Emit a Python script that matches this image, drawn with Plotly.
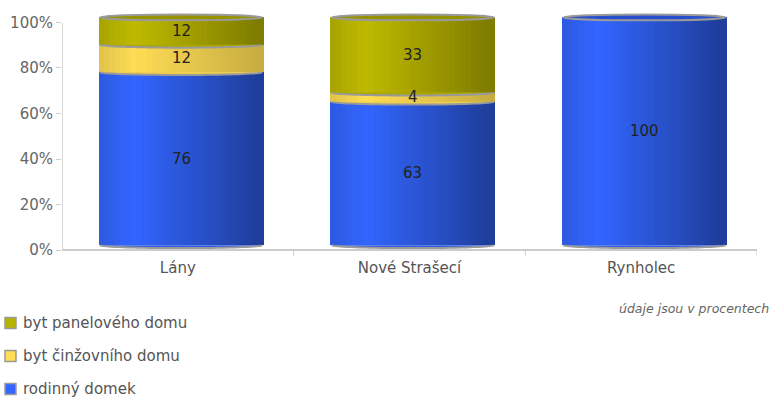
import numpy as np
import plotly.graph_objects as go

# ---------------- data ----------------
categories = ["Lány", "Nové Strašecí", "Rynholec"]
rodinny_domek = [76, 63, 100]
byt_cinzovniho = [12, 4, 0]
byt_paneloveho = [12, 33, 0]
series_names = ["rodinný domek", "byt činžovního domu", "byt panelového domu"]
y_tick_values = [0, 20, 40, 60, 80, 100]
y_tick_labels = ["0%", "20%", "40%", "60%", "80%", "100%"]
note_text = "údaje jsou v procentech"

# ---------------- style ----------------
FONT = "DejaVu Sans, Verdana, sans-serif"
base_rgb = [(51, 102, 255), (255, 221, 85), (191, 186, 0)]
dark_min = [0.60, 0.78, 0.66]
legend_rgb = ["#3366ff", "#ffdd55", "#b8b200"]
cap_rgb = ["rgb(40,78,205)", "rgb(225,195,70)", "rgb(150,146,0)"]
EDGE = "#9a9a9a"
BAR_W = 0.70
N_STRIPS = 30
DX = 0.014   # 3D depth offset (x, axis units)
DY = 2.2     # 3D depth offset (y, axis units)
RY = 1.3     # ellipse half-height (y, axis units)

W, H = 774, 401
ML, MR, MT, MB = 62, 17, 11, 144
PW, PH = W - ML - MR, H - MT - MB


def px_x(px):
    return (px - ML) / PW


def px_y(py):
    return (H - MB - py) / PH


series = [rodinny_domek, byt_cinzovniho, byt_paneloveho]
vals = np.array(series, dtype=float)          # (series, category)
bases = np.vstack([np.zeros(len(categories)), np.cumsum(vals, axis=0)[:-1]])
ncat = len(categories)


def shade(rgb, t, dmin):
    # brightness profile across cylinder width
    if t < 0.22:
        f = 0.88 + (1.0 - 0.88) * t / 0.22
    else:
        f = 1.0 - (1.0 - dmin) * (t - 0.22) / 0.78
    return "rgb(%d,%d,%d)" % tuple(int(max(0, min(255, c * f))) for c in rgb)


step = BAR_W / N_STRIPS
fig = go.Figure()

for s in range(len(series)):
    xs, ys, bs, cs = [], [], [], []
    for i in range(ncat):
        if vals[s, i] <= 0:
            continue
        cx = i + DX
        for k in range(N_STRIPS):
            t = (k + 0.5) / N_STRIPS
            xs.append(cx - BAR_W / 2 + step * (k + 0.5))
            ys.append(vals[s, i])
            bs.append(bases[s, i] + DY)
            cs.append(shade(base_rgb[s], t, dark_min[s]))
    fig.add_trace(go.Bar(
        x=xs, y=ys, base=bs, width=step * 1.5, name=series_names[s],
        marker=dict(color=cs, line=dict(width=0)),
        showlegend=False, hoverinfo="skip",
    ))

shapes = []
annotations = []
theta = np.linspace(np.pi, 2 * np.pi, 41)


def half_ellipse(cx, cy, rx, ry, closed):
    px = cx + rx * np.cos(theta)
    py = cy + ry * np.sin(theta)
    p = "M %f,%f " % (px[0], py[0]) + " ".join("L %f,%f" % (a, b) for a, b in zip(px[1:], py[1:]))
    if closed:
        p += " Z"
    return p


for i in range(ncat):
    cx = i + DX
    rx = BAR_W / 2
    top_s = None
    for s in range(len(series)):
        if vals[s, i] <= 0:
            continue
        top_s = s
        y0 = bases[s, i] + DY
        mid_col = shade(base_rgb[s], 0.45, dark_min[s])
        shapes.append(dict(type="path", xref="x", yref="y",
                           path=half_ellipse(cx, y0, rx, RY, True),
                           fillcolor=mid_col, line=dict(width=0)))
        shapes.append(dict(type="path", xref="x", yref="y",
                           path=half_ellipse(cx, y0, rx, RY, False),
                           line=dict(color=EDGE, width=2)))
        annotations.append(dict(
            x=cx, y=bases[s, i] + vals[s, i] / 2 + DY, xref="x", yref="y",
            text=str(int(vals[s, i])), showarrow=False,
            font=dict(family=FONT, size=15, color="#222")))
    ytop = bases[top_s, i] + vals[top_s, i] + DY
    shapes.append(dict(type="circle", xref="x", yref="y",
                       x0=cx - rx, x1=cx + rx, y0=ytop - RY, y1=ytop + RY,
                       fillcolor=cap_rgb[top_s], line=dict(color=EDGE, width=2)))

# axis line and category separator ticks
shapes.append(dict(type="line", xref="x", yref="y", x0=-0.5, x1=-0.5,
                   y0=0, y1=100, line=dict(color="#cccccc", width=1.5)))
for b in np.arange(ncat) + 0.5:
    shapes.append(dict(type="line", xref="x", yref="y", x0=b, x1=b,
                       y0=0, y1=-2.4, line=dict(color="#cccccc", width=1)))

# legend (drawn manually so the plot area keeps its size)
legend_order = [2, 1, 0]
legend_rows_px = [323, 356, 389]
for s, row in zip(legend_order, legend_rows_px):
    shapes.append(dict(type="rect", xref="paper", yref="paper",
                       x0=px_x(5), x1=px_x(16), y0=px_y(row + 5.5), y1=px_y(row - 5.5),
                       fillcolor=legend_rgb[s], line=dict(color=EDGE, width=1.5)))
    annotations.append(dict(
        x=px_x(21), y=px_y(row), xref="paper", yref="paper",
        xanchor="left", yanchor="middle", text=series_names[s], showarrow=False,
        font=dict(family=FONT, size=15, color="#555")))

annotations.append(dict(
    x=px_x(771), y=px_y(308), xref="paper", yref="paper", xanchor="right", yanchor="middle",
    text="<i>" + note_text + "</i>", showarrow=False,
    font=dict(family=FONT, size=12.5, color="#666")))

fig.update_layout(
    width=W, height=H,
    margin=dict(l=ML, r=MR, t=MT, b=MB),
    barmode="overlay", bargap=0,
    plot_bgcolor="white", paper_bgcolor="white",
    font=dict(family=FONT),
    shapes=shapes, annotations=annotations,
    showlegend=False,
    xaxis=dict(range=[-0.5, 2.5], tickvals=list(range(ncat)), ticktext=categories,
               showgrid=False, zeroline=False, showline=False, ticks="",
               automargin=False,
               tickfont=dict(family=FONT, size=15, color="#555")),
    yaxis=dict(range=[-3, 105], tickvals=y_tick_values, ticktext=y_tick_labels,
               ticks="outside", ticklen=5, tickcolor="#cccccc",
               showgrid=False, zeroline=True, zerolinecolor="#cccccc", zerolinewidth=1.5,
               showline=False, automargin=False,
               tickfont=dict(family=FONT, size=15, color="#666")),
)

fig.write_html("out.html",
               config={"displayModeBar": False},
               post_script="document.body.style.margin='0';document.body.style.overflow='hidden';")
